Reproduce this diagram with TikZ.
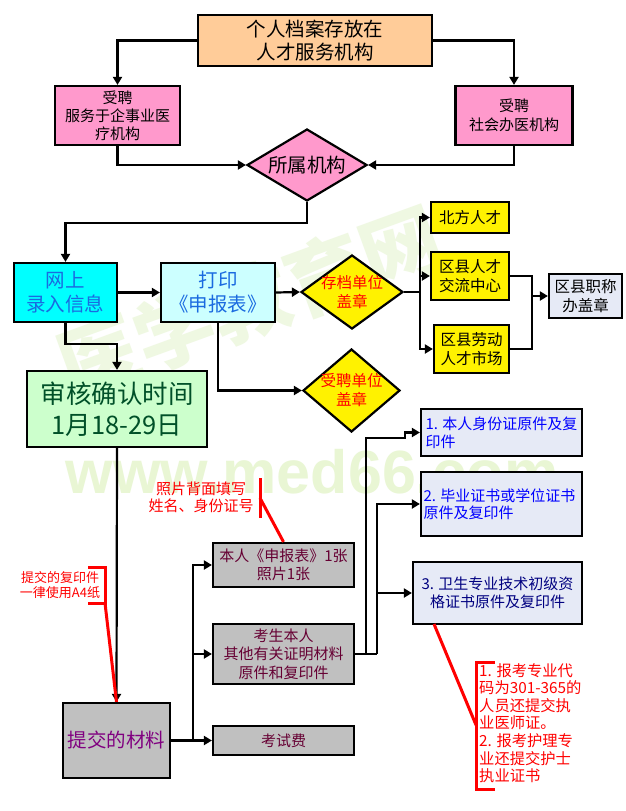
\documentclass[tikz,border=0pt]{standalone}
\usepackage{fontspec}
\setmainfont{Noto Sans CJK SC}
\newfontfamily\wmlatin{Liberation Sans}[BoldFont={Liberation Sans Bold}]
\usetikzlibrary{arrows.meta,shapes.geometric,calc}
\definecolor{wmgreen}{HTML}{E9F6D4}
\definecolor{wmgreenb}{HTML}{EFF8E2}
\definecolor{peach}{HTML}{FFCC99}
\definecolor{rosepk}{HTML}{FF99CC}
\definecolor{purecy}{HTML}{00FFFF}
\definecolor{palecy}{HTML}{CCFFFF}
\definecolor{palegr}{HTML}{CCFFCC}
\definecolor{grayb}{HTML}{C0C0C0}
\definecolor{paleb}{HTML}{E6EAF6}
\definecolor{maroonx}{HTML}{660033}
\definecolor{dkgreen}{HTML}{005028}
\definecolor{blueb}{HTML}{1A6AE0}
\definecolor{purplex}{HTML}{800080}
\newcommand{\fs}[2]{\fontsize{#1}{#2}\selectfont}
\tikzset{
  bx/.style={draw=black,line width=2.2pt,rectangle,inner sep=0pt,align=center,text=black},
  dm/.style={draw=black,line width=2.2pt,diamond,inner sep=0pt,fill=yellow},
  dtext/.style={align=center,inner sep=0pt},
  conn/.style={draw=black,line width=2.2pt,line join=miter},
  arr/.style={conn,-{Triangle[length=8pt,width=9pt]}},
  redl/.style={draw=red,line width=3pt},
  note/.style={text=red,align=center,inner sep=0pt},
  wm/.style={text=wmgreen,inner sep=0pt}
}
\begin{document}
\begin{tikzpicture}[x=1pt,y=-1pt]
\useasboundingbox (0,0) rectangle (626,811);
\fill[white] (0,0) rectangle (626,811);
% watermark
\node[wm,text=wmgreenb,rotate=20,font=\fs{80}{80}\bfseries] (wm1) at (250,302) {医学教育网};
\node[wm,anchor=base,font=\wmlatin\fs{61}{61}\bfseries] (wm2) at (312,493) {www.med66.com};
% top part
\node[bx,fill=peach,minimum width=234pt,minimum height=51pt,font=\fs{19.5}{22.5}] (top) at (315,40.5) {个人档案存放在\\人才服务机构};
\node[bx,fill=rosepk,minimum width=125pt,minimum height=59pt,font=\fs{15}{18}] (left) at (117.5,115.5) {受聘\\服务于企事业医\\疗机构};
\node[bx,fill=rosepk,minimum width=117pt,minimum height=59pt,font=\fs{15}{18.5}] (right) at (514,115.5) {受聘\\社会办医机构};
\node[dm,fill=rosepk,minimum width=120pt,minimum height=72pt,label={[dtext,font=\fs{19.5}{23}]center:所属机构}] (org) at (307,165) {};
% row 2
\node[bx,fill=purecy,text=blueb,minimum width=103pt,minimum height=59pt,font=\fs{19.5}{24}] (web) at (65.5,292.5) {网上\\录入信息};
\node[bx,fill=palecy,text=blueb,minimum width=114pt,minimum height=59pt,font=\fs{19.5}{24}] (print) at (218,292.5) {打印\\《申报表》};
\node[dm,minimum width=102pt,minimum height=74pt,label={[dtext,text=red,font=\fs{15.5}{19}]center:存档单位\\盖章}] (seal1) at (352,292) {};
\node[dm,minimum width=97pt,minimum height=83pt,label={[dtext,text=red,font=\fs{15.5}{19}]center:受聘单位\\盖章}] (seal2) at (351.5,390.5) {};
\node[bx,fill=yellow,minimum width=78pt,minimum height=31pt,font=\fs{15.5}{19}] (north) at (470,217.5) {北方人才};
\node[bx,fill=yellow,minimum width=78pt,minimum height=48pt,font=\fs{15.5}{18.5}] (county1) at (470,276) {区县人才\\交流中心};
\node[bx,fill=yellow,minimum width=75pt,minimum height=48pt,font=\fs{15.5}{18.5}] (county2) at (471.5,349) {区县劳动\\人才市场};
\node[bx,fill=paleb,minimum width=73pt,minimum height=44pt,font=\fs{15.5}{18.5}] (title) at (585.5,296) {区县职称\\办盖章};
% middle
\node[bx,fill=palegr,text=dkgreen,minimum width=180pt,minimum height=76pt,font=\fs{25.5}{31}] (check) at (117,409) {审核确认时间\\1月18-29日};
\node[bx,fill=grayb,text=purplex,minimum width=107pt,minimum height=75pt,font=\fs{19.5}{22}] (mat) at (116.5,740.5) {提交的材料};
\node[bx,fill=grayb,text=maroonx,minimum width=141pt,minimum height=44pt,font=\fs{15}{18.5}] (g1) at (283.5,565) {本人《申报表》1张\\照片1张};
\node[bx,fill=grayb,text=maroonx,minimum width=141pt,minimum height=60pt,font=\fs{15}{18.5}] (g2) at (283.5,654) {考生本人\\其他有关证明材料\\原件和复印件};
\node[bx,fill=grayb,text=maroonx,minimum width=141pt,minimum height=29pt,font=\fs{15}{18.5}] (g3) at (283.5,740.5) {考试费};
% right doc boxes
\node[bx,fill=paleb,text=blue,align=left,minimum width=161pt,minimum height=47pt,font=\fs{15}{18}] (d1) at (501.5,432.5) {1. 本人身份证原件及复\\印件};
\node[bx,fill=paleb,text=blue,align=left,minimum width=161pt,minimum height=64pt,font=\fs{15}{18}] (d2) at (501.5,504) {\raisebox{6pt}{\parbox[t]{156pt}{\fs{15}{17.5}2. 毕业证书或学位证书\\原件及复印件}}};
\node[bx,fill=paleb,text=blue!50!black,minimum width=169pt,minimum height=62pt,font=\fs{15}{18.5}] (d3) at (497.5,593) {3. 卫生专业技术初级资\\格证书原件及复印件};
% connectors
\draw[arr] (top.west) -| (left.north);
\draw[arr] (top.east) -| (right.north);
\draw[arr] (left.south) |- (org.west);
\draw[arr] (right.south) |- (org.east);
\coordinate (j1) at (307,223);
\draw[arr] (org.south) -- (j1) -| (web.north);
\draw[arr] (web.east) -- (print.west);
\draw[arr] (print.east) -- (seal1.west);
\draw[arr] (print.south) |- (seal2.west);
\coordinate (j2) at (65.5,344);
\draw[arr] (web.south) -- (j2) -| (check.north);
\coordinate (sp) at (420,292);
\draw[conn] (seal1.east) -- (sp);
\draw[arr] (sp) |- (north.west);
\draw[arr] (sp) |- (county1.west);
\draw[arr] (sp) |- (county2.west);
\coordinate (mg) at (532,296);
\draw[conn] (county1.east) -| (mg);
\draw[conn] (county2.east) -| (mg);
\draw[arr] (mg) -- (title.west);
\draw[arr] (check.south) -- (mat.north);
\coordinate (gs) at (193,740.5);
\draw[conn,line width=3pt] (mat.east) -- (gs);
\draw[arr] (gs) -- (g3.west);
\draw[arr] (gs) |- (g2.west);
\draw[arr] (gs) |- (g1.west);
\coordinate (v1) at (366,438);
\coordinate (v2) at (405,438);
\coordinate (v3) at (405,432.5);
\draw[arr] (g2.east) -| (v1) -- (v2) -- (v3) -- (d1.west);
\coordinate (v4) at (377,654);
\draw[conn] (g2.east) -- (v4);
\draw[arr] (v4) |- (d2.west);
\coordinate (v5) at (377,593);
\draw[arr] (v5) -- (d3.west);
% red annotations
\node[note,font=\fs{15}{17}] (n1) at (201,497.5) {照片背面填写\\姓名、身份证号};
\coordinate (b1a) at (260,478);
\coordinate (b1b) at (260,518);
\coordinate (b1c) at (260,498);
\draw[redl] (b1a) -- (b1b);
\draw[redl] (b1c) -- (g1.north);
\node[note,font=\fs{13}{15}] (n2) at (60,585.5) {提交的复印件\\一律使用A4纸};
\coordinate (b2a) at (88,567);
\coordinate (b2b) at (105,567);
\coordinate (b2c) at (105,603);
\coordinate (b2d) at (88,603);
\draw[redl] (b2a) -- (b2b) -- (b2c) -- (b2d);
\draw[redl] (b2c) -- (mat.north);
\node[note,align=left,anchor=north west,font=\fs{15.3}{17.6}] (n3) at (479,663) {1. 报考专业代\\码为301-365的\\人员还提交执\\业医师证。\\2. 报考护理专\\业还提交护士\\执业证书};
\coordinate (b3a) at (495,662);
\coordinate (b3b) at (476,662);
\coordinate (b3c) at (476,789);
\coordinate (b3d) at (495,789);
\coordinate (b3e) at (476,725);
\coordinate (b3f) at (434,624);
\draw[redl] (b3a) -- (b3b) -- (b3c) -- (b3d);
\draw[redl] (b3f) -- (b3e);
\end{tikzpicture}
\end{document}
